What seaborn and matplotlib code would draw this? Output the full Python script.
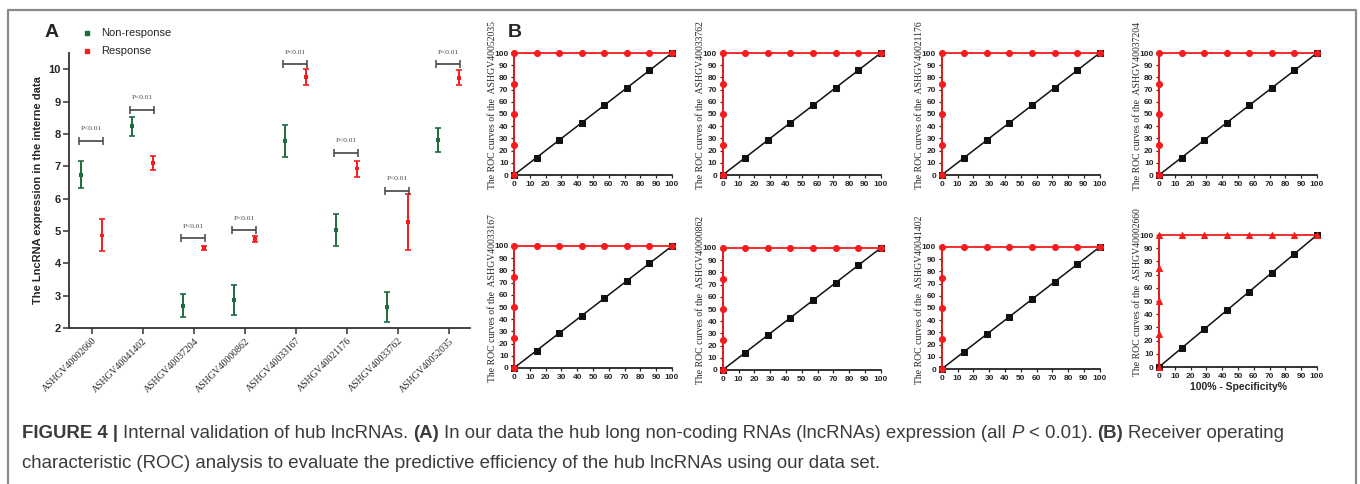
import matplotlib
matplotlib.use("Agg")
import matplotlib.pyplot as plt
from matplotlib.lines import Line2D
import seaborn as sns
import pandas as pd

# ---- panel A data ----
genes_a = ["ASHGV40002660", "ASHGV40041402", "ASHGV40037204", "ASHGV40000862",
           "ASHGV40033167", "ASHGV40021176", "ASHGV40033762", "ASHGV40052035"]
nonresp_mean = [6.74, 8.24, 2.69, 2.87, 7.78, 5.02, 2.66, 7.81]
nonresp_lo = [6.34, 7.95, 2.33, 2.40, 7.29, 4.52, 2.20, 7.44]
nonresp_hi = [7.15, 8.53, 3.05, 3.32, 8.27, 5.53, 3.10, 8.19]
resp_mean = [4.86, 7.09, 4.47, 4.75, 9.76, 6.93, 5.28, 9.74]
resp_lo = [4.37, 6.88, 4.42, 4.65, 9.51, 6.67, 4.40, 9.50]
resp_hi = [5.37, 7.31, 4.52, 4.85, 10.00, 7.16, 6.15, 9.98]
bracket_y = [7.78, 8.73, 4.77, 5.02, 10.15, 7.40, 6.23, 10.15]
p_label = "P<0.01"

# ---- panel B data ----
roc_genes = ["ASHGV40052035", "ASHGV40033762", "ASHGV40021176", "ASHGV40037204",
             "ASHGV40033167", "ASHGV40000862", "ASHGV40041402", "ASHGV40002660"]
roc_fpr = [0, 0, 0, 0, 0, 14.29, 28.57, 42.86, 57.14, 71.43, 85.71, 100]
roc_tpr = [0, 25, 50, 75, 100, 100, 100, 100, 100, 100, 100, 100]
ref_line = [0, 14.29, 28.57, 42.86, 57.14, 71.43, 85.71, 100]

GREEN = "#1d6b3f"
RED = "#f41c1c"
W, H = 1360, 484

sns.set_theme(style="ticks")
plt.rcParams["font.family"] = ["Liberation Sans", "DejaVu Sans"]

fig = plt.figure(figsize=(W / 100, H / 100), dpi=100)


def px_axes(x0, top, x1, bottom):
    return fig.add_axes([x0 / W, 1 - bottom / H, (x1 - x0) / W, (bottom - top) / H])


# ---------------- panel A ----------------
ax = px_axes(69, 53, 470, 328)
pos = list(range(len(genes_a)))
off_n, off_r = -0.21, 0.19

df_a = pd.DataFrame({
    "x": [p + off_n for p in pos] + [p + off_r for p in pos],
    "y": nonresp_mean + resp_mean,
    "group": ["Non-response"] * 8 + ["Response"] * 8,
})
sns.scatterplot(data=df_a, x="x", y="y", hue="group", palette=[GREEN, RED],
                marker="s", s=8, linewidth=0, legend=False, ax=ax, zorder=3)
for xs, m, lo, hi, c in [([p + off_n for p in pos], nonresp_mean, nonresp_lo, nonresp_hi, GREEN),
                         ([p + off_r for p in pos], resp_mean, resp_lo, resp_hi, RED)]:
    err = [[a - b for a, b in zip(m, lo)], [b - a for a, b in zip(m, hi)]]
    ax.errorbar(xs, m, yerr=err, fmt="none", ecolor=c, elinewidth=1.4,
                capsize=2, capthick=1.2, zorder=2)

for p, by in zip(pos, bracket_y):
    ax.errorbar(p - 0.015, by, xerr=0.235, fmt="none", ecolor="#444444",
                elinewidth=1.2, capsize=3, capthick=1.1, clip_on=False)
    ax.text(p - 0.015, by + 0.38, p_label, ha="center", va="center",
            fontsize=5.3, family=["Liberation Serif"], color="#444444", clip_on=False)

ax.set_xlim(-0.45, 7.41)
ax.set_ylim(2, 10.5)
ax.set_yticks(range(2, 11))
ax.set_xticks(pos)
ax.set_xticklabels(genes_a, rotation=45, ha="right", rotation_mode="anchor",
                   fontsize=7.0, family=["Liberation Serif"])
for t in ax.get_yticklabels():
    t.set_fontweight("bold")
    t.set_fontsize(8)
ax.tick_params(axis="both", length=4, width=1.1, color="#333333", pad=2)
ax.set_xlabel("")
ax.set_ylabel("The LncRNA expression in the interne data", fontsize=8,
              fontweight="bold", labelpad=4)
for s in ["left", "bottom"]:
    ax.spines[s].set_linewidth(1.3)
    ax.spines[s].set_color("#333333")
sns.despine(ax=ax)

# legend
for ypx, c, lab in [(33, GREEN, "Non-response"), (51, RED, "Response")]:
    fig.add_artist(Line2D([87 / W], [1 - ypx / H], marker="s", markersize=2.5,
                          color=c, linestyle="none", transform=fig.transFigure))
    fig.text(101 / W, 1 - ypx / H, lab, fontsize=8, va="center", ha="left")

fig.text(52 / W, 1 - 33 / H, "A", fontsize=14, fontweight="bold", va="center", ha="center")
fig.text(515 / W, 1 - 33 / H, "B", fontsize=14, fontweight="bold", va="center", ha="center")

# ---------------- panel B ----------------
col_x = [514, 722.7, 941.7, 1159]
row_tb = [[(53, 175)] * 4,
          [(246, 368), (248, 370), (247, 369), (235, 367)]]

for i, gene in enumerate(roc_genes):
    r, c = divmod(i, 4)
    top, bot = row_tb[r][c]
    bx = px_axes(col_x[c], top, col_x[c] + 158, bot)
    red_marker = "^" if i == 7 else "o"
    sns.lineplot(x=ref_line, y=ref_line, color="#111111", marker="s", markersize=4.5,
                 markeredgecolor="#111111", linewidth=1.1, sort=False, estimator=None,
                 ax=bx, clip_on=False, zorder=3)
    sns.lineplot(x=roc_fpr, y=roc_tpr, color=RED, marker=red_marker, markersize=4.3,
                 markeredgecolor=RED, linewidth=1.3, sort=False, estimator=None,
                 ax=bx, clip_on=False, zorder=4)
    bx.set_xlim(0, 100)
    bx.set_ylim(0, 100)
    bx.set_xticks(range(0, 101, 10))
    bx.set_yticks(range(0, 101, 10))
    for t in bx.get_xticklabels() + bx.get_yticklabels():
        t.set_fontweight("bold")
        t.set_fontsize(6)
    bx.tick_params(axis="both", length=2.5, width=0.9, pad=1.5)
    for s in ["left", "bottom"]:
        bx.spines[s].set_linewidth(1.2)
        bx.spines[s].set_color("#111111")
    sns.despine(ax=bx)
    bx.set_ylabel("The ROC curves of the  " + gene, fontsize=7.0,
                  family=["Liberation Serif"])
    bx.yaxis.set_label_coords(-0.11, 0.57)
    if i == 7:
        bx.set_xlabel("100% - Specificity%", fontsize=7.5, fontweight="bold", labelpad=2)

# ---------------- frame and caption ----------------
fc = "#8a8a8a"
fig.add_artist(Line2D([8 / W, 8 / W, 1356 / W, 1356 / W], [0, 1 - 10 / H, 1 - 10 / H, 0],
                      color=fc, linewidth=1.6, transform=fig.transFigure))

renderer = fig.canvas.get_renderer()
cap_size = 13.4
cap_col = "#3b3b3b"


def width_px(txt):
    return txt.get_window_extent(renderer=renderer).width


probe_a = fig.text(0, 0, "xx", fontsize=cap_size)
probe_b = fig.text(0, 0, "x x", fontsize=cap_size)
space = width_px(probe_b) - width_px(probe_a)
probe_a.remove()
probe_b.remove()


def caption_line(pieces, ypx, x0=22):
    x = x0
    for txt, style, gap in pieces:
        kw = {}
        if style == "b":
            kw["fontweight"] = "bold"
        if style == "i":
            kw["fontstyle"] = "italic"
        t = fig.text(x / W, 1 - ypx / H, txt, fontsize=cap_size, color=cap_col,
                     va="center", ha="left", **kw)
        x += width_px(t) + (space if gap else 0)


caption_line([
    ("FIGURE 4 |", "b", True),
    ("Internal validation of hub lncRNAs.", "n", True),
    ("(A)", "b", True),
    ("In our data the hub long non-coding RNAs (lncRNAs) expression (all", "n", True),
    ("P", "i", True),
    ("< 0.01).", "n", True),
    ("(B)", "b", True),
    ("Receiver operating", "n", False),
], 434)
caption_line([
    ("characteristic (ROC) analysis to evaluate the predictive efficiency of the hub lncRNAs using our data set.", "n", False),
], 463)

fig.savefig("out.png", dpi=100)
